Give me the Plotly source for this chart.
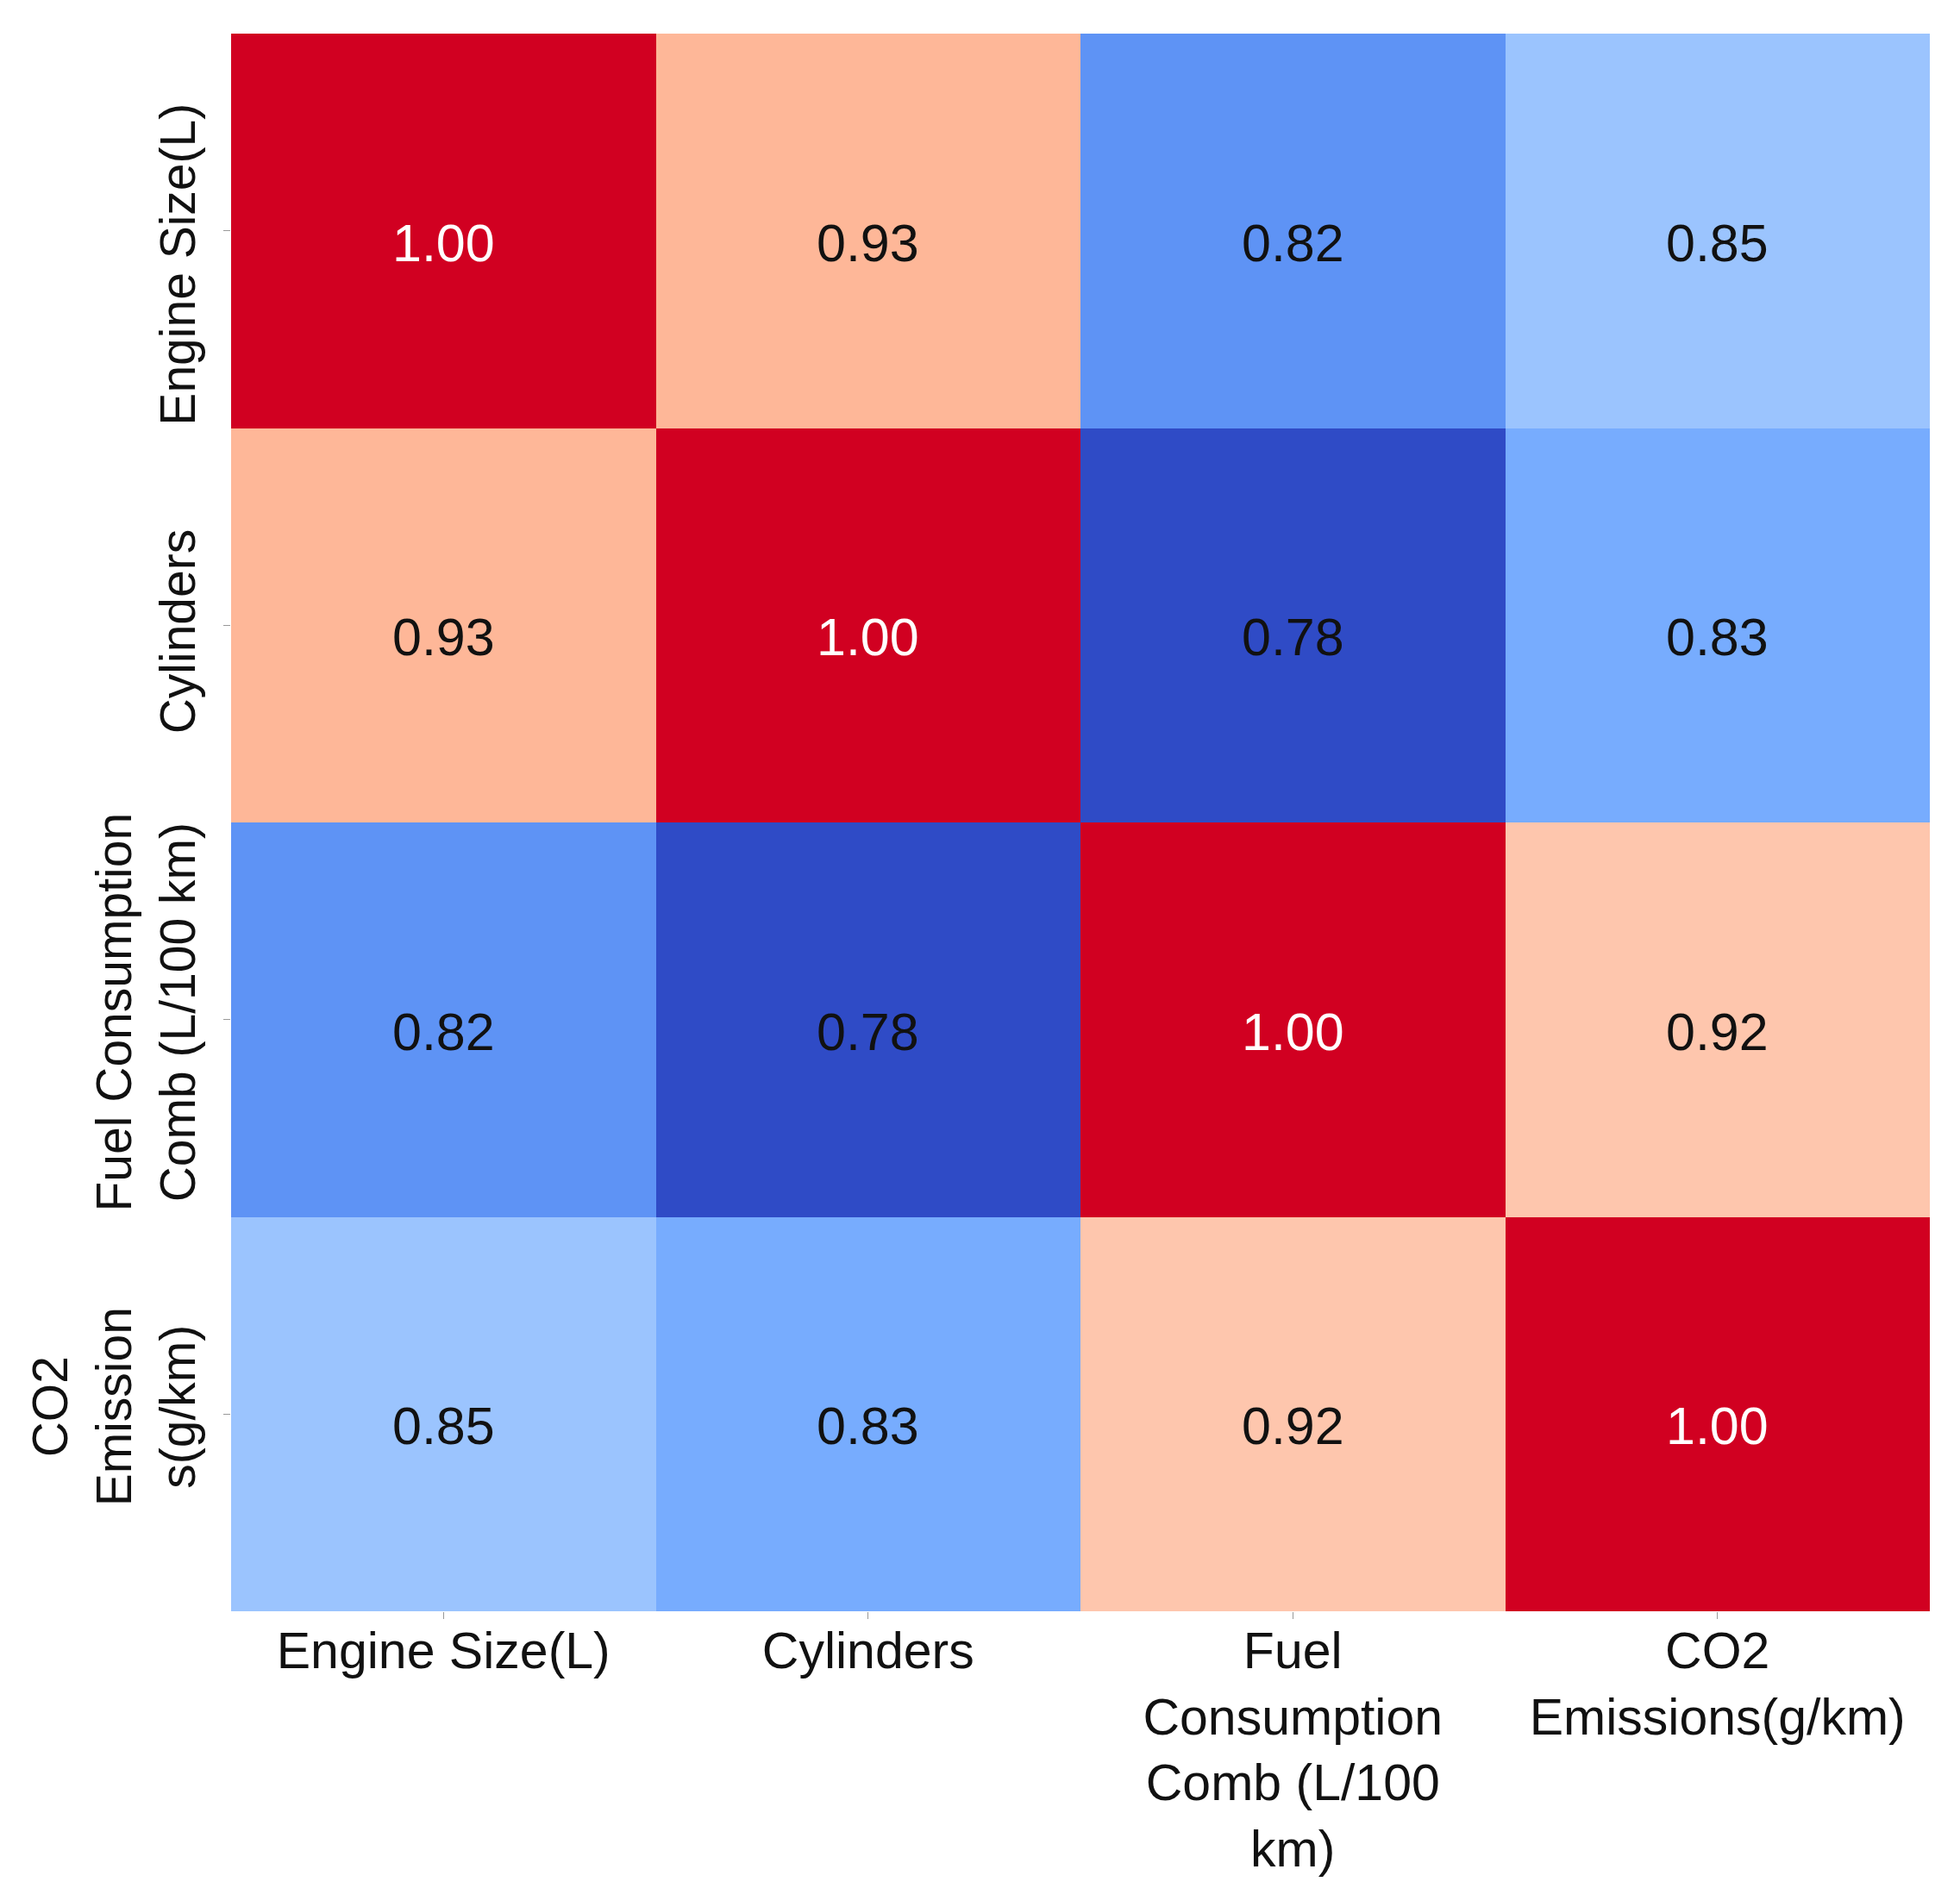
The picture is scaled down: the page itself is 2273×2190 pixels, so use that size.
import plotly.graph_objects as go

NB = "\u00a0"

# correlation matrix, rows top to bottom, columns left to right
x_labels = ["Engine Size(L)", "Cylinders",
            "Fuel<br>Consumption<br>Comb (L/100<br>km)",
            "CO2<br>Emissions(g/km)"]
y_labels = ["Engine Size(L)", "Cylinders",
            "Fuel Consumption<br>Comb (L/100 km)",
            "CO2<br>Emission<br>s(g/km)"]
corr = [
    [1.00, 0.93, 0.82, 0.85],
    [0.93, 1.00, 0.78, 0.83],
    [0.82, 0.78, 1.00, 0.92],
    [0.85, 0.83, 0.92, 1.00],
]

zmin, zmax = 0.78, 1.00

def stop(v):
    return (v - zmin) / (zmax - zmin)

# colours for each value present
colorscale = [
    [stop(0.78), "#2f4bc6"],
    [stop(0.82), "#5e93f5"],
    [stop(0.83), "#77acfe"],
    [stop(0.85), "#9bc4fe"],
    [stop(0.92), "#fec6ad"],
    [stop(0.93), "#feb798"],
    [stop(1.00), "#d10021"],
]

n = len(corr)
fig = go.Figure(go.Heatmap(
    z=corr,
    x=list(range(n)),
    y=list(range(n)),
    zmin=zmin, zmax=zmax,
    colorscale=colorscale,
    showscale=False,
    xgap=0, ygap=0,
))

for i, row in enumerate(corr):
    for j, v in enumerate(row):
        fig.add_annotation(
            x=j, y=i, xref="x", yref="y",
            text=f"{v:.2f}", showarrow=False, yshift=-14,
            font=dict(size=61, color="white" if v >= 0.995 else "#111111",
                      family="Arial, Liberation Sans, sans-serif"),
        )

# the first two row labels sit a bit below their ticks in the original;
# trailing no-break spaces push the visible text down
y_pad = [6, 2, 0, 0]
y_ticktext = [lab + NB * p for lab, p in zip(y_labels, y_pad)]

fig.update_xaxes(
    tickvals=list(range(n)), ticktext=x_labels,
    ticks="outside", ticklen=8, tickcolor="#999999", tickwidth=1,
    showgrid=False, zeroline=False, showline=False,
    range=[-0.5, n - 0.5],
    ticklabelstandoff=-14,
    tickfont=dict(size=59, color="#111111"),
)
fig.update_yaxes(
    tickvals=list(range(n)), ticktext=y_ticktext,
    ticks="outside", ticklen=8, tickcolor="#999999", tickwidth=1,
    showgrid=False, zeroline=False, showline=False,
    range=[n - 0.5, -0.5],
    tickangle=-90,
    ticklabelstandoff=10,
    tickfont=dict(size=57, color="#111111"),
)

# page body adds 8px, so the figure is 8px smaller than the window
fig.update_layout(
    width=2265, height=2182,
    margin=dict(l=260, r=35, t=31, b=317),
    paper_bgcolor="white", plot_bgcolor="white",
    font=dict(family="Arial, Liberation Sans, sans-serif"),
)

fig.write_html("out.html")
